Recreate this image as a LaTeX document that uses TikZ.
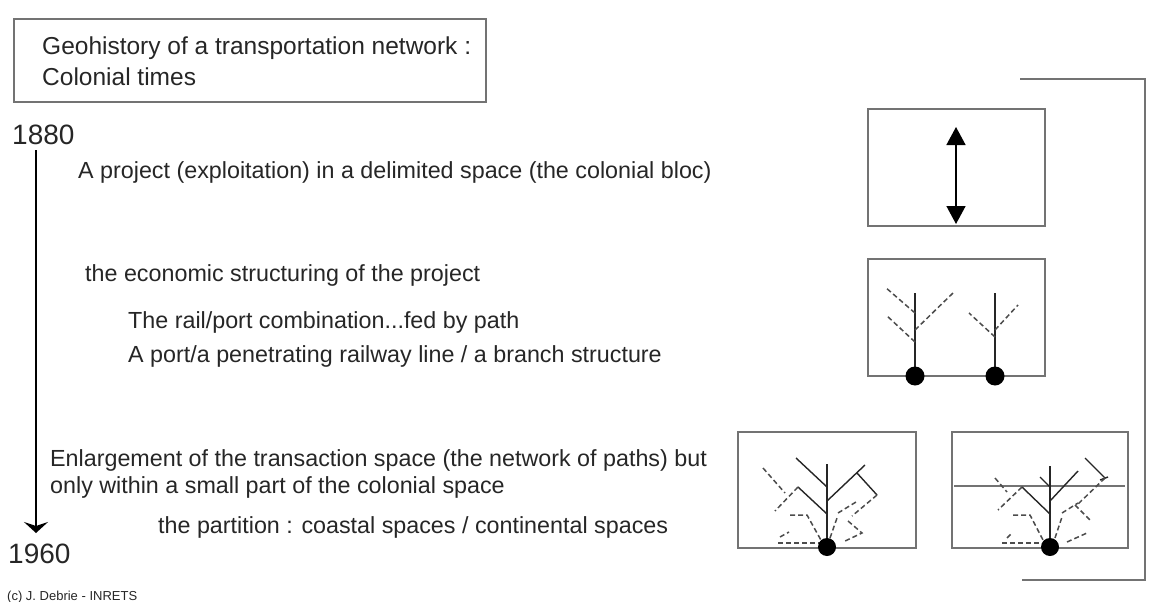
\documentclass[tikz,border=0pt]{standalone}
\usepackage{fontspec}
\setmainfont{Liberation Sans}
\usetikzlibrary{arrows.meta}
\begin{document}
\begin{tikzpicture}[x=1pt,y=-1pt,
  txt/.style={anchor=base west, inner sep=0pt, text=black!85, font=\fontsize{23.3}{27}\selectfont},
  ttl/.style={txt, font=\fontsize{24.5}{28}\selectfont},
  yr/.style={txt, font=\fontsize{28}{32}\selectfont},
  frame/.style={draw=black!55, line width=1.3pt},
  tr/.style={line width=1.4pt, draw=black!85},
  dsh/.style={line width=1.5pt, draw=black!70, dash pattern=on 5pt off 3pt},
  dot/.style={fill=black, draw=none}]
\useasboundingbox (0,0) rectangle (1157,602);
% title
\draw[frame] (14,19) rectangle (486,102);
\node[ttl] (t1) at (42,55) {Geohistory of a transportation network :};
\node[ttl] (t2) at (42,85) {Colonial times};
% timeline
\node[yr] (y1880) at (12,144) {1880};
\node[yr] (y1960) at (8,563) {1960};
\coordinate (tlA) at (36,150);
\coordinate (tlB) at (36,533);
\draw[line width=1.5pt, -{Stealth[length=11pt,width=24pt,inset=4pt]}] (tlA) -- (tlB);
\node[txt, font=\fontsize{13}{15}\selectfont] (copy) at (7,600) {(c) J. Debrie - INRETS};
% texts
\node[txt] (p1) at (78,178) {A project (exploitation) in a delimited space (the colonial bloc)};
\node[txt] (p2) at (85,281) {the economic structuring of the project};
\node[txt] (p3) at (128,328) {The rail/port combination...fed by path};
\node[txt] (p4) at (128,362) {A port/a penetrating railway line / a branch structure};
\node[txt] (p5) at (50,466) {Enlargement of the transaction space (the network of paths) but};
\node[txt] (p6) at (50,493) {only within a small part of the colonial space};
\node[txt] (p7) at (158,533) {the partition : coastal spaces / continental spaces};
% bracket
\draw[frame] (1020,79) -- (1145,79) -- (1145,580) -- (1022,580);
% box 1
\draw[frame] (868,109) rectangle (1045,226);
\coordinate (a1) at (956,127);
\coordinate (a2) at (956,224);
\draw[line width=1.5pt, {Triangle[length=18pt,width=19pt]}-{Triangle[length=18pt,width=19pt]}] (a1) -- (a2);
% box 2
\draw[frame] (868,259) rectangle (1045,376);
\draw[tr] (915,293) -- (915,376);
\draw[dsh] (915,313) -- (885,287);
\draw[dsh] (915,330) -- (953,293);
\draw[dsh] (915,342) -- (886,315);
\draw[tr] (995,293) -- (995,376);
\draw[dsh] (995,337) -- (969,313);
\draw[dsh] (995,330) -- (1018,305);
\fill[dot] (915,376) circle (9.5);
\fill[dot] (995,376) circle (9.5);
% box 3
\draw[frame] (738,432) rectangle (916,548);
\draw[tr] (827,464) -- (827,547);
\draw[tr] (796,458) -- (827,487);
\draw[tr] (798,487) -- (827,514);
\draw[tr] (827,501) -- (865,465);
\draw[tr] (857,473) -- (877,495);
\draw[dsh] (763,468) -- (785,493);
\draw[dsh] (798,487) -- (775,511);
\draw[dsh] (790,515) -- (807,515) -- (822,542);
\draw[dsh] (780,537) -- (789,532);
\draw[dsh] (778,543) -- (822,543);
\draw[dsh] (830,538) -- (837,518);
\draw[dsh] (838,513) -- (856,502);
\draw[dsh] (877,495) -- (852,516);
\draw[dsh] (848,521) -- (862,533) -- (843,542);
\fill[dot] (827,547) circle (9);
% box 4
\draw[frame] (952,432) rectangle (1128,548);
\draw[frame] (954,486) -- (1125,486);
\draw[tr] (1050,466) -- (1050,547);
\draw[tr] (1022,487) -- (1050,514);
\draw[tr] (1050,501) -- (1078,471);
\draw[tr] (1040,477) -- (1050,487);
\draw[tr] (1085,458) -- (1105,478);
\draw[tr] (1100,480) -- (1108,477);
\draw[dsh] (995,478) -- (1007,492);
\draw[dsh] (1022,487) -- (998,510);
\draw[dsh] (1013,515) -- (1030,515) -- (1043,540);
\draw[dsh] (1007,538) -- (1012,533);
\draw[dsh] (1002,543) -- (1040,543);
\draw[dsh] (1055,538) -- (1062,517);
\draw[dsh] (1062,513) -- (1078,503);
\draw[dsh] (1105,478) -- (1077,505);
\draw[dsh] (1075,505) -- (1090,520);
\draw[dsh] (1067,542) -- (1087,533);
\fill[dot] (1050,547) circle (9);
\end{tikzpicture}
\end{document}
